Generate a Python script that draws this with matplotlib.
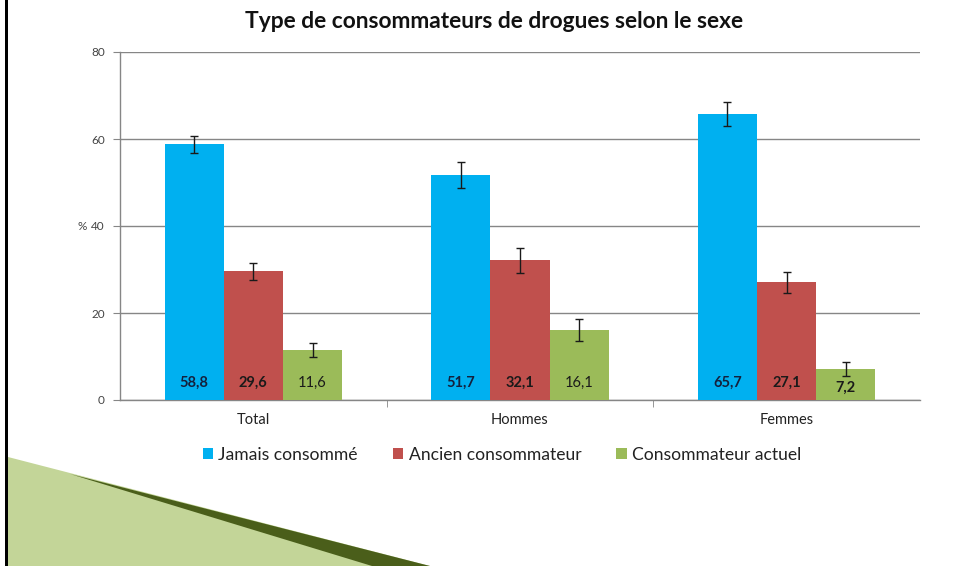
import matplotlib
matplotlib.use("Agg")
import matplotlib.pyplot as plt
import numpy as np
from matplotlib.patches import Polygon, Rectangle

plt.rcParams['font.family'] = ['Lato', 'DejaVu Sans']

categories = ["Total", "Hommes", "Femmes"]
series_names = ["Jamais consommé", "Ancien consommateur", "Consommateur actuel"]
jamais = [58.8, 51.7, 65.7]
ancien = [29.6, 32.1, 27.1]
actuel = [11.6, 16.1, 7.2]
err_jamais = [2.0, 2.9, 2.8]
err_ancien = [2.0, 2.9, 2.4]
err_actuel = [1.6, 2.5, 1.6]
labels_jamais = ["58,8", "51,7", "65,7"]
labels_ancien = ["29,6", "32,1", "27,1"]
labels_actuel = ["11,6", "16,1", "7,2"]
yticks = [0, 20, 40, 60, 80]

colors = ["#00B0F0", "#C0504D", "#9BBB59"]

fig = plt.figure(figsize=(9.73, 5.66), dpi=100)
fig.patch.set_facecolor("white")

# decoration: left border and green corner
fig.add_artist(Rectangle((5/973, 0), 3/973, 1, transform=fig.transFigure,
                         facecolor="black", edgecolor="none", zorder=5))
def fp(x, y):
    return (x/973, 1 - y/566)
light = Polygon([fp(8, 457), fp(430, 566), fp(8, 566)], closed=True,
                transform=fig.transFigure, facecolor="#C3D598", edgecolor="none", zorder=1)
dark = Polygon([fp(70, 474), fp(430, 566), fp(372, 566)], closed=True,
               transform=fig.transFigure, facecolor="#4A5E1A", edgecolor="none", zorder=2)
fig.add_artist(light)
fig.add_artist(dark)

ax = fig.add_axes([120/973, 1 - 400/566, 800/973, 348/566])
ax.set_facecolor("none")

x = np.arange(len(categories))
w = 0.222
series = [(jamais, err_jamais, labels_jamais), (ancien, err_ancien, labels_ancien),
          (actuel, err_actuel, labels_actuel)]
offsets = [-w, 0, w]
for i, ((vals, errs, labs), off) in enumerate(zip(series, offsets)):
    ax.bar(x + off, vals, width=w, color=colors[i], label=series_names[i], zorder=3)
    ax.errorbar(x + off, vals, yerr=errs, fmt="none", ecolor="#1a1a1a",
                elinewidth=1, capsize=3, capthick=1, zorder=4)
    for j, lab in enumerate(labs):
        weight = "bold"
        if i == 2 and j in (0, 1):
            weight = "normal"
        ypos = 4.0
        if i == 2 and j == 2:
            ypos = 2.8
        ax.text(x[j] + off, ypos, lab, ha="center", va="center", fontsize=10.5,
                fontweight=weight, color="#14213d" if i == 0 else "#1a1a1a", zorder=5)

ax.set_xlim(-0.5, 2.5)
ax.set_ylim(0, 80)
ax.set_yticks(yticks)
ax.set_yticklabels([str(t) for t in yticks])
ax.yaxis.grid(True, color="#868686", linewidth=1, zorder=0)
ax.set_axisbelow(True)

ax.set_xticks(x)
ax.set_xticklabels(categories, fontsize=10.5, color="#222222")
ax.tick_params(axis="x", length=0, pad=9)
ax.set_xticks([0.5, 1.5], minor=True)
ax.tick_params(axis="x", which="minor", length=5, color="#868686", direction="out")
ax.tick_params(axis="y", length=5, color="#868686", labelsize=8.5, labelcolor="#444444", pad=6)

for s in ["top", "right"]:
    ax.spines[s].set_visible(False)
for s in ["left", "bottom"]:
    ax.spines[s].set_color("#868686")
    ax.spines[s].set_linewidth(1)

ax.text(-0.0475, 40, "%", transform=ax.get_yaxis_transform(), ha="center", va="center",
        fontsize=8.5, color="#444444")

fig.text(494/973, 1 - 22/566, "Type de consommateurs de drogues selon le sexe",
         ha="center", va="center", fontsize=16.4, fontweight="bold", color="#111111")

handles, labs = ax.get_legend_handles_labels()
leg = fig.legend(handles, labs, loc="center", bbox_to_anchor=(502/973, 1 - 455/566),
                 ncol=3, frameon=False, fontsize=12.6, handlelength=0.6, handleheight=0.6,
                 handletextpad=0.3, columnspacing=2.0)
for t in leg.get_texts():
    t.set_color("#222222")

fig.savefig("out.png", dpi=100, facecolor="white")
